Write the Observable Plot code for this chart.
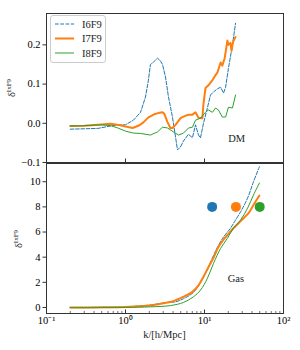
<!DOCTYPE html>
<html><head><meta charset="utf-8">
<script src="https://cdn.jsdelivr.net/npm/d3@7"></script>
<script src="https://cdn.jsdelivr.net/npm/@observablehq/plot@0.6"></script>
<style>
body{margin:0;background:#fff;}
#fig{position:relative;width:300px;height:350px;font-family:"Liberation Serif",serif;}
#fig svg{position:absolute;left:0;display:block;overflow:visible;}
</style></head>
<body><div id="fig"></div>
<script>
const series = ["I6F9", "I7F9", "I8F9"];
const colors = ["#1f77b4", "#ff7f0e", "#2ca02c"];

// DM panel
const dmK0 = [0.2,0.3,0.45,0.6,0.8,1.0,1.26,1.55,1.79,1.95,2.07,2.26,2.54,2.75,2.94,3.21,3.5,3.93,4.3,4.55,4.97,5.42,6.27,7.04,7.69,8.39,8.9,9.71,10.9,11.9,13.0,14.6,16.0,17.4,18.5,20.1,22.6,24.7];
const dmV0 = [-0.015,-0.014,-0.013,-0.008,-0.004,-0.004,0.008,0.028,0.067,0.11,0.15,0.156,0.166,0.16,0.15,0.118,0.067,0.016,-0.035,-0.068,-0.06,-0.045,-0.028,-0.037,-0.004,-0.03,-0.037,0.0,0.04,0.072,0.08,0.088,0.092,0.077,0.092,0.14,0.2,0.255];
const dmK1 = [0.2,0.3,0.5,0.65,0.85,1.0,1.23,1.5,1.7,1.95,2.3,2.6,2.94,3.1,3.4,3.7,3.93,4.3,4.97,5.42,6.27,7.04,7.69,8.39,9.4,9.71,10.3,11.2,12.6,13.8,14.6,16.0,16.8,18.0,19.5,20.1,21.3,22.0,22.6,23.2,24.7];
const dmV1 = [-0.007,-0.006,-0.003,-0.001,-0.005,-0.008,-0.012,-0.005,0.003,0.015,0.023,0.026,0.028,0.024,0.003,-0.012,-0.012,-0.004,0.013,0.017,0.022,0.022,0.028,0.014,0.013,0.05,0.09,0.097,0.11,0.123,0.13,0.155,0.147,0.166,0.211,0.2,0.205,0.185,0.2,0.21,0.22];
const dmK2 = [0.2,0.3,0.5,0.65,0.8,1.0,1.26,1.55,2.07,2.54,2.94,3.41,4.04,4.7,5.42,6.27,7.04,7.69,8.9,10.3,11.2,12.6,13.8,15.0,16.8,18.5,20.1,22.6,24.7];
const dmV2 = [-0.007,-0.006,-0.004,-0.006,-0.012,-0.02,-0.025,-0.026,-0.03,-0.022,-0.01,-0.012,-0.022,-0.03,-0.025,-0.012,-0.01,0.008,0.013,0.028,0.034,0.028,0.039,0.034,0.016,0.016,0.041,0.039,0.072];

// Gas panel
const gasK0 = [0.2,0.5,1.0,1.5,2.07,3.41,4.3,5.42,7.25,9.71,11.9,14.6,17.4,21.3,24.7,28.6,35.1,41.7,49.6];
const gasV0 = [0.0,0.01,0.05,0.12,0.2,0.4,0.45,0.7,1.2,2.4,3.6,4.8,5.6,6.3,6.95,7.6,8.7,10.0,11.2];
const gasK1 = [0.2,0.5,1.0,1.5,2.07,3.03,4.04,5.42,7.04,8.39,9.71,11.2,13.0,15.0,17.4,20.1,23.2,27.0,31.2,36.1,41.7,49.6];
const gasV1 = [0.0,0.01,0.04,0.1,0.15,0.33,0.5,0.85,1.24,1.75,2.45,3.2,3.95,4.8,5.4,5.85,6.3,6.7,7.1,7.5,8.15,8.9];
const gasK2 = [0.2,1.0,2.07,3.71,5.42,7.25,8.9,10.9,13.0,16.0,19.5,23.2,28.6,35.1,41.7,49.6];
const gasV2 = [-0.02,0.0,0.05,0.15,0.4,0.85,1.38,2.33,3.5,4.7,5.5,6.3,6.95,7.9,8.95,9.9];

// markers
const dotK = [12.5, 25, 50];
const dotV = [8, 8, 8];

const dmTicks = [-0.1, 0.0, 0.1, 0.2];
const gasTicks = [0, 2, 4, 6, 8, 10];
const xTicks = [0.1, 1, 10, 100];
const xTickLabels = ["10⁻¹", "10⁰", "10¹", "10²"];
const minorTicks = [];
for (const d of [0.1, 1, 10]) for (let m = 2; m <= 9; m++) minorTicks.push(+(d * m).toPrecision(3));

const rows = (K, V) => K.map((k, i) => ({k, v: V[i]}));
const dm = [rows(dmK0, dmV0), rows(dmK1, dmV1), rows(dmK2, dmV2)];
const gas = [rows(gasK0, gasV0), rows(gasK1, gasV1), rows(gasK2, gasV2)];
const styles = [
  {strokeWidth: 1, strokeDasharray: "3.7,1.6"},
  {strokeWidth: 2},
  {strokeWidth: 1}
];
const font = "Liberation Serif";
const FS = 10.5;

function lines(data, curve) {
  return data.map((d, i) => Plot.line(d, {x: "k", y: "v", stroke: colors[i], curve, ...styles[i]}));
}

const W = 300, ML = 46, MR = 17;
// top panel
const H1 = 163, MT1 = 13, MB1 = 1, inner1 = H1 - MT1 - MB1;
const topSvg = Plot.plot({
  width: W, height: H1, marginTop: MT1, marginBottom: MB1, marginLeft: ML, marginRight: MR,
  style: {fontFamily: font, fontSize: FS + "px", background: "transparent", overflow: "visible"},
  x: {type: "log", domain: [0.1, 100], axis: null},
  y: {domain: [-0.1, 0.28]},
  marks: [
    ...lines(dm, "linear"),
    Plot.text(["DM"], {x: [25.5], y: [-0.04], text: d => d, fontSize: FS, fontFamily: font, fill: "#222"}),
    Plot.axisY(dmTicks, {tickSize: 3.5, tickPadding: 2.5, tickFormat: d3.format(".1f"), label: null, fontSize: FS, stroke: "#333"}),
    Plot.tickX(xTicks, {x: d => d, insetTop: inner1 - 3.5, stroke: "#333"}),
    Plot.frame({stroke: "#333", strokeWidth: 1})
  ]
});
topSvg.style.top = "0px";

// bottom panel
const H2 = 187, MT2 = 0, MB2 = 37, inner2 = H2 - MT2 - MB2;
const botSvg = Plot.plot({
  width: W, height: H2, marginTop: MT2, marginBottom: MB2, marginLeft: ML, marginRight: MR,
  style: {fontFamily: font, fontSize: FS + "px", background: "transparent", overflow: "visible"},
  x: {type: "log", domain: [0.1, 100]},
  y: {domain: [-0.48, 11.45]},
  marks: [
    ...lines(gas, "catmull-rom"),
    Plot.dot(dotK.map((k, i) => ({k, v: dotV[i], c: colors[i]})), {x: "k", y: "v", fill: "c", r: 5, stroke: null}),
    Plot.text(["Gas"], {x: [25], y: [2.3], text: d => d, fontSize: FS, fontFamily: font, fill: "#222"}),
    Plot.axisY(gasTicks, {tickSize: 3.5, tickPadding: 2.5, tickFormat: d => String(d), label: null, fontSize: FS, stroke: "#333"}),
    Plot.axisX(xTicks, {tickSize: 0, tickPadding: 3, tickFormat: d => xTickLabels[xTicks.indexOf(d)], label: null, fontSize: FS}),
    Plot.tickX(xTicks, {x: d => d, insetTop: inner2 - 3.5, stroke: "#333"}),
    Plot.tickX(minorTicks, {x: d => d, insetTop: inner2 - 2, stroke: "#333", strokeWidth: 0.7}),
    Plot.frame({stroke: "#333", strokeWidth: 1})
  ]
});
botSvg.style.top = "163px";

const fig = document.getElementById("fig");
fig.appendChild(topSvg);
fig.appendChild(botSvg);

// y labels
function ylabel(svg, x, y) {
  const t = d3.select(svg).append("text")
    .attr("transform", `translate(${x},${y}) rotate(-90)`)
    .attr("text-anchor", "middle")
    .attr("font-family", font).attr("fill", "#222");
  t.append("tspan").attr("font-size", FS).text("δ");
  t.append("tspan").attr("font-size", 7).attr("dy", -4).text("IxF9");
}
ylabel(topSvg, 15, 88);
ylabel(botSvg, 22, 76);

// x label
d3.select(botSvg).append("text")
  .attr("x", 164.5).attr("y", 175)
  .attr("text-anchor", "middle").attr("font-family", font).attr("font-size", FS).attr("fill", "#222")
  .text("k/[h/Mpc]");

// legend
const lg = d3.select(topSvg).append("g");
lg.append("rect").attr("x", 50.5).attr("y", 15.5).attr("width", 55).attr("height", 47).attr("rx", 2.5)
  .attr("fill", "white").attr("fill-opacity", 0.8).attr("stroke", "#ccc");
series.forEach((s, i) => {
  const y = 24 + i * 14.5;
  lg.append("line").attr("x1", 55).attr("x2", 74).attr("y1", y).attr("y2", y)
    .attr("stroke", colors[i]).attr("stroke-width", styles[i].strokeWidth)
    .attr("stroke-dasharray", styles[i].strokeDasharray || null);
  lg.append("text").attr("x", 82).attr("y", y + 3.5).attr("text-anchor", "start")
    .attr("font-family", font).attr("font-size", FS)
    .attr("fill", "#222").text(s);
});
</script>
</body></html>
